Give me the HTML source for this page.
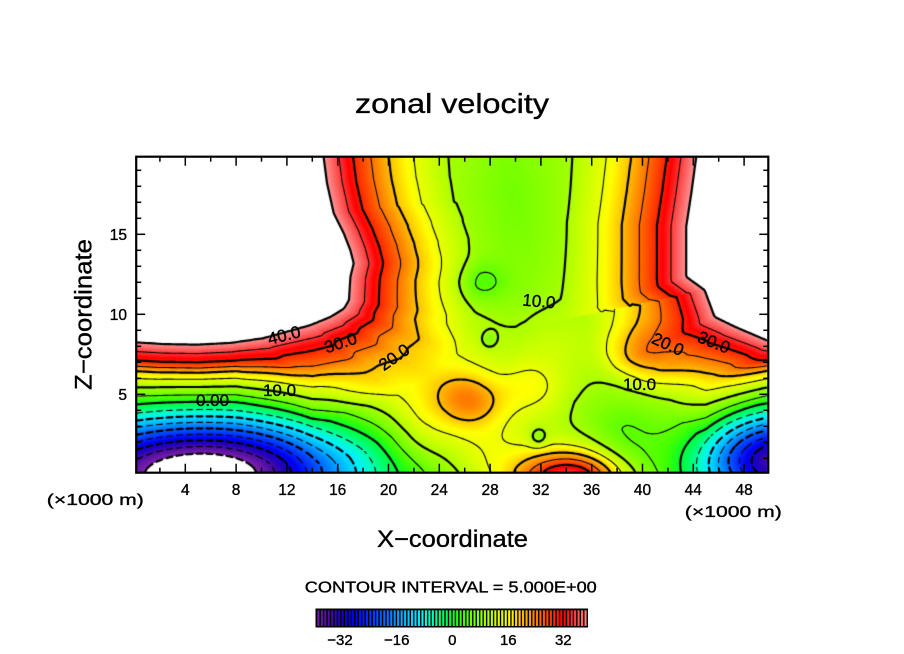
<!DOCTYPE html>
<html><head><meta charset="utf-8">
<style>
html,body{margin:0;padding:0;background:#fff;}
#wrap{position:relative;width:904px;height:654px;overflow:hidden;background:#fff;}
#cv{position:absolute;left:136px;top:157px;width:632px;height:316px;}
#ov{position:absolute;left:0;top:0;}
text{font-family:"Liberation Sans",sans-serif;fill:#000;stroke:#000;stroke-width:0.35;}
</style></head><body>
<div id="wrap">
<canvas id="cv" width="632" height="316"></canvas>
<svg id="ov" width="904" height="654" xmlns="http://www.w3.org/2000/svg">
<text x="452" y="113" font-size="28" text-anchor="middle" textLength="194" lengthAdjust="spacingAndGlyphs">zonal velocity</text>
<g id="ticks" stroke="#000" stroke-width="1.5"></g>
<rect x="136.2" y="156.7" width="632.1" height="316" fill="none" stroke="#000" stroke-width="2.2"/>
<g id="xl" font-size="15.5" text-anchor="middle"></g>
<g id="yl" font-size="15.5" text-anchor="end">
<text x="127" y="240">15</text><text x="127" y="320">10</text><text x="127" y="400">5</text>
</g>
<text x="95.3" y="505" font-size="16" text-anchor="middle" textLength="97" lengthAdjust="spacingAndGlyphs">(×1000 m)</text>
<text x="733.3" y="517" font-size="16" text-anchor="middle" textLength="97" lengthAdjust="spacingAndGlyphs">(×1000 m)</text>
<text x="452.5" y="547" font-size="24" text-anchor="middle" textLength="151" lengthAdjust="spacingAndGlyphs">X−coordinate</text>
<text x="91.5" y="314.5" font-size="24" text-anchor="middle" textLength="151" lengthAdjust="spacingAndGlyphs" transform="rotate(-90 91.5 314.5)">Z−coordinate</text>
<text x="450.8" y="592.7" font-size="15.5" text-anchor="middle" textLength="292" lengthAdjust="spacingAndGlyphs">CONTOUR INTERVAL = 5.000E+00</text>
<rect x="315.5" y="608.5" width="272.5" height="19" fill="#000"/>
<g id="cb"></g>
<g font-size="15" text-anchor="middle">
<text x="340" y="645">−32</text><text x="396.7" y="645">−16</text><text x="452.3" y="645">0</text><text x="508.3" y="645">16</text><text x="563.3" y="645">32</text>
</g>
<g font-size="17" text-anchor="middle">
<text x="284" y="341" transform="rotate(-14 284 335)">40.0</text>
<text x="340.5" y="348.5" transform="rotate(-18 340.5 342.5)">30.0</text>
<text x="394" y="363" transform="rotate(-35 394 357)">20.0</text>
<text x="279.5" y="396">10.0</text>
<text x="212.5" y="406">0.00</text>
<text x="539" y="307" transform="rotate(5 539 301)">10.0</text>
<text x="668" y="350" transform="rotate(25 668 344)">20.0</text>
<text x="714" y="348" transform="rotate(22 714 342)">30.0</text>
<text x="639.5" y="390">10.0</text>
</g>
</svg>
</div>
<script>
(function(){
var NS="http://www.w3.org/2000/svg";
var X0=134.5, SX=12.7, Z0=474.3, SZ=16;
var tg=document.getElementById('ticks');
function ln(x1,y1,x2,y2){var l=document.createElementNS(NS,'line');l.setAttribute('x1',x1);l.setAttribute('y1',y1);l.setAttribute('x2',x2);l.setAttribute('y2',y2);tg.appendChild(l);}
var xl=document.getElementById('xl');
for(var k=2;k<=48;k+=2){var px=X0+SX*k;var len=(k%4===0)?9:5;ln(px,472.7,px,472.7-len);ln(px,156.7,px,156.7+len);
 if(k%4===0){var t=document.createElementNS(NS,'text');t.setAttribute('x',px);t.setAttribute('y',495);t.textContent=String(k);xl.appendChild(t);}}
for(var k=1;k<=19;k++){var py=Z0-SZ*k;var len=(k%5===0)?9:5;ln(136.2,py,136.2+len,py);ln(768.3,py,768.3-len,py);}
var CS=[[-40,[128,32,176]],[-36,[80,16,160]],[-32,[32,0,192]],[-28,[0,0,240]],[-24,[0,48,255]],[-20,[0,96,255]],[-16,[0,152,255]],[-12,[0,204,255]],[-9,[0,240,255]],[-6,[0,255,192]],[-3,[0,255,112]],[0,[0,255,48]],[3,[64,255,0]],[7,[128,255,0]],[11,[184,255,0]],[14,[224,255,0]],[16.5,[255,255,0]],[19,[255,208,0]],[22,[255,160,0]],[26,[255,96,0]],[30,[255,32,0]],[32,[255,0,0]],[35,[255,56,56]],[38,[255,112,112]],[40,[255,152,152]]];
function cmap(v){
 if(v>40||v<-40) return [255,255,255];
 for(var k=1;k<CS.length;k++){if(v<=CS[k][0]){var a=CS[k-1],b=CS[k],t=(v-a[0])/(b[0]-a[0]);return [a[1][0]+t*(b[1][0]-a[1][0]),a[1][1]+t*(b[1][1]-a[1][1]),a[1][2]+t*(b[1][2]-a[1][2])];}}
 return CS[CS.length-1][1];
}
var cb=document.getElementById('cb');
for(var i=0;i<78;i++){var v=-39+i+0.5;var c=cmap(v);var r=document.createElementNS(NS,'rect');
 r.setAttribute('x',317.3+i*3.47);r.setAttribute('y',610.3);r.setAttribute('width',2.1);r.setAttribute('height',15.7);
 r.setAttribute('fill','rgb('+Math.round(c[0])+','+Math.round(c[1])+','+Math.round(c[2])+')');cb.appendChild(r);}
var P1=[[-5,8.23],[0.17,8.23],[2.27,8.12],[4.9,8.08],[7.53,8.19],[10.16,8.5],[12.0,8.91],[13.85,9.33],[15.43,9.85],[16.48,10.37],[16.87,10.89],[17.0,12.35],[17.26,13.19],[17.0,14.0],[16.48,15.06],[15.69,16.31],[15.16,18.19],[14.89,19.85],[14.8,25]];
var P1c=P1.concat([[-5,25]]);
var P2=[[55,8.29],[50,8.29],[47.26,9.23],[45.68,9.85],[44.89,11.52],[43.44,12.35],[43.44,15.48],[43.84,17.56],[44.23,19.85],[44.3,25]];
var P2c=P2.concat([[55,25]]);
function inside(x,z,p){var c=false;for(var i=0,j=p.length-1;i<p.length;j=i++){var xi=p[i][0],zi=p[i][1],xj=p[j][0],zj=p[j][1];if(((zi>z)!==(zj>z))&&(x<(xj-xi)*(z-zi)/(zj-zi)+xi))c=!c;}return c;}
function near(x,z,ch){var best=1e9,bdx=0,bdz=0,qz=z*2.5;
 for(var i=0;i<ch.length-1;i++){var ax=ch[i][0],az=ch[i][1]*2.5,bx=ch[i+1][0],bz=ch[i+1][1]*2.5;var vx=bx-ax,vz=bz-az;
  var t=((x-ax)*vx+(qz-az)*vz)/(vx*vx+vz*vz);if(t<0)t=0;if(t>1)t=1;var dx=x-(ax+t*vx),dz=qz-(az+t*vz);var dd=dx*dx+dz*dz;
  if(dd<best){best=dd;bdx=dx;bdz=dz/2.5;}}
 return [bdx,bdz,Math.sqrt(best)];}
var gX=[0,0.6,1.2,1.87,2.8],gY=[0,1.2,2.3,5.1,7.7];
function g(d){if(d>=2.8)return 7.7+(d-2.8)*2.8;for(var k=1;k<5;k++)if(d<=gX[k])return gY[k-1]+(d-gX[k-1])/(gX[k]-gX[k-1])*(gY[k]-gY[k-1]);return 0;}
var eX=[0,1.2,2.3,3.7,5.1,7.1,10,14],eY=[31,26,21,16,11,6,1,-1];
function E(d){if(d>=14)return -1;for(var k=1;k<eX.length;k++)if(d<=eX[k])return eY[k-1]+(d-eX[k-1])/(eX[k]-eX[k-1])*(eY[k]-eY[k-1]);return -1;}
function jet(x,z,ch,chc,s){var r=near(x,z,ch);if(inside(x,z,chc))return 31+Math.min(4*r[2],20);
 var gg=g(s*Math.abs(r[1]));return E(Math.sqrt(r[0]*r[0]+gg*gg));}
function s1(x){return x<=8?1:(x>=14?0.6:1-0.4*(x-8)/6);}
function s2(x){return x>=50?1:(x<=45?0.52:0.52+0.48*(x-45)/5);}
function G(x,z,a,cx,cz,sx,sz){var dx=(x-cx)/sx,dz=(z-cz)/sz;return a*Math.exp(-dx*dx-dz*dz);}
function field(x,z){
 var u=10+jet(x,z,P1,P1c,s1(x))+jet(x,z,P2,P2c,s2(x));
 u+=G(x,z,-55,5.35,0,x<5.35?12.3:11.5,3.5);
 u+=G(x,z,-44,51,0.8,6.3,3);
 u+=G(x,z,7,24,5.5,5,3.5);
 u+=G(x,z,10,26.4,4.6,2.6,1.6);
 u+=G(x,z,24,34.3,-0.3,4.0,1.6);
 u+=G(x,z,5,33.5,0,6,3);
 u+=G(x,z,-2,30,16,5,5);
 u+=G(x,z,-5,27.3,12,1.9,1.3);
 u+=G(x,z,-4,38.5,2,3,3.5);
 u+=G(x,z,5,27.5,1.5,3.5,2.5);
 u+=G(x,z,7,31.5,5.5,3,2);
 u+=G(x,z,7,40,7.5,3,2);
 u+=G(x,z,3,18,5.5,3,1.5);
 u+=G(x,z,4,22.5,2.5,2.5,2);
 u+=G(x,z,3,32.5,8.5,3,1.8);
 u+=G(x,z,-4,27.9,8.4,0.6,0.5);
 u+=G(x,z,-5,31.8,2.3,0.7,0.6);
 return u;}
var cv=document.getElementById('cv'),ctx=cv.getContext('2d');
var W=632,H=316,L=136,T=157;
var F=new Float32Array(W*H);var img=ctx.createImageData(W,H);var d=img.data;
for(var j=0;j<H;j++){var z=(Z0-(T+j+0.5))/SZ;
 for(var i=0;i<W;i++){var x=(L+i+0.5-X0)/SX;var u=field(x,z);F[j*W+i]=u;var c=cmap(u);var o=(j*W+i)*4;
  d[o]=c[0];d[o+1]=c[1];d[o+2]=c[2];d[o+3]=255;}}
ctx.putImageData(img,0,0);
var S=2,NI=Math.floor((W-1)/S),NJ=Math.floor((H-1)/S);
function val(i,j){return F[(j*S)*W+i*S];}
ctx.strokeStyle='#000';ctx.lineCap='round';
for(var lev=-40;lev<=40;lev+=5){
 var thick=(lev%10===0);ctx.lineWidth=thick?2.2:1.1;var dash=lev<0;ctx.beginPath();
 for(var j=0;j<NJ;j++)for(var i=0;i<NI;i++){
  var v0=val(i,j),v1=val(i+1,j),v2=val(i+1,j+1),v3=val(i,j+1);
  var x0=i*S+0.5,y0=j*S+0.5;var pts=[];
  if((v0>lev)!==(v1>lev))pts.push([x0+S*(lev-v0)/(v1-v0),y0]);
  if((v1>lev)!==(v2>lev))pts.push([x0+S,y0+S*(lev-v1)/(v2-v1)]);
  if((v3>lev)!==(v2>lev))pts.push([x0+S*(lev-v3)/(v2-v3),y0+S]);
  if((v0>lev)!==(v3>lev))pts.push([x0,y0+S*(lev-v0)/(v3-v0)]);
  for(var p=0;p+1<pts.length;p+=2){var a=pts[p],b=pts[p+1];
   if(dash){var mx=(a[0]+b[0])/2,my=(a[1]+b[1])/2;var co=Math.abs(b[0]-a[0])>Math.abs(b[1]-a[1])?mx:my;if((co%10)>=6)continue;}
   ctx.moveTo(a[0],a[1]);ctx.lineTo(b[0],b[1]);}
 }
 ctx.stroke();}
})();
</script>
</body></html>
